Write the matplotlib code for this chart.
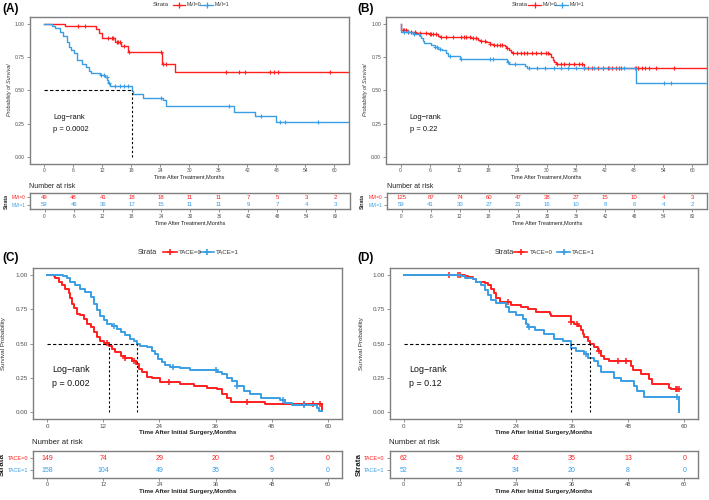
import numpy as np
import matplotlib
matplotlib.use("Agg")
import matplotlib.pyplot as plt
from matplotlib.lines import Line2D

plt.rcParams['font.family'] = ['Liberation Sans', 'DejaVu Sans']

RED = '#FF1F1F'
BLUE = '#3A9EE4'
GRAY = '#7F7F7F'
TXT = '#4D4D4D'

# ---------------- DATA ----------------
# Panel A (MVI, time after treatment)
a_mvi0_t = [4.4, 10.8, 11.4, 11.9, 14.7, 16.0, 17.4, 24.4, 27.1]
a_mvi0_s = [0.985, 0.96, 0.93, 0.895, 0.86, 0.83, 0.785, 0.695, 0.636]
a_mvi0_c = [7.1, 8.5, 13.2, 14.0, 14.3, 15.0, 15.3, 15.7, 16.5, 17.6, 24.1, 24.6, 25.3,
            37.6, 40.3, 41.5, 46.7, 47.6, 48.4, 59.0]
a_mvi1_t = [1.6, 2.3, 3.2, 4.0, 4.7, 5.1, 5.5, 6.1, 6.8, 7.8, 8.7, 9.2, 9.7, 11.6, 12.6, 13.1,
            13.3, 13.6, 18.1, 18.3, 20.5, 24.6, 25.1, 25.3, 39.2, 43.6, 48.0]
a_mvi1_s = [0.985, 0.967, 0.94, 0.91, 0.866, 0.828, 0.80, 0.778, 0.73, 0.70, 0.677, 0.644, 0.626,
            0.611, 0.596, 0.576, 0.556, 0.53, 0.495, 0.475, 0.445, 0.424, 0.407, 0.38, 0.34, 0.303, 0.258]
a_mvi1_c = [11.8, 12.3, 13.0, 13.4, 14.7, 15.7, 16.5, 17.4, 24.2, 38.3, 44.8, 48.8, 49.8, 56.6]
a_risk_mvi0 = [49, 48, 41, 18, 18, 11, 11, 7, 5, 3, 2]
a_risk_mvi1 = [59, 46, 36, 17, 15, 11, 11, 9, 7, 4, 3]
a_pval = "p = 0.0002"

# Panel B (MVI, time after treatment)
b_mvi0_t = [0.02, 1.5, 3.2, 6.0, 7.7, 8.0, 14.5, 15.9, 16.6, 17.6, 18.3, 19.0, 21.4, 21.7, 22.2,
            22.7, 23.1, 30.6, 31.0, 31.4, 31.6, 32.0, 37.7]
b_mvi0_s = [0.95, 0.94, 0.93, 0.92, 0.905, 0.90, 0.89, 0.88, 0.87, 0.86, 0.85, 0.84, 0.83, 0.82,
            0.80, 0.79, 0.78, 0.77, 0.75, 0.73, 0.71, 0.70, 0.67]
b_mvi0_c = [0.5, 0.8, 1.2, 1.5, 2.2, 2.9, 3.9, 5.3, 6.0, 6.3, 6.6, 7.3, 8.4, 9.4, 10.8, 12.5, 13.0,
            13.5, 14.2, 14.9, 15.5, 16.6, 17.4, 18.3, 19.2, 19.9, 20.4, 20.8, 21.9, 23.1, 24.0, 24.7,
            25.3, 26.0, 27.0, 27.9, 28.9, 29.9, 30.4, 32.2, 32.9, 33.7, 34.7, 35.6, 36.6, 37.3, 37.8,
            38.5, 39.3, 40.5, 41.6, 42.7, 43.4, 44.3, 45.0, 45.3, 48.5, 48.9, 49.6, 50.3, 51.1, 52.5, 56.2]
b_mvi1_t = [0.02, 2.5, 3.9, 4.2, 4.7, 4.9, 6.3, 7.0, 7.7, 8.5, 9.4, 9.7, 12.3, 21.9, 22.2, 25.5, 26.0, 48.4]
b_mvi1_s = [0.935, 0.92, 0.91, 0.89, 0.87, 0.855, 0.84, 0.825, 0.81, 0.80, 0.78, 0.76, 0.735, 0.715,
            0.70, 0.68, 0.665, 0.555]
b_mvi1_c = [0.8, 1.6, 2.7, 3.7, 7.1, 7.5, 8.0, 10.1, 12.5, 18.3, 19.0, 22.1, 23.6, 26.3, 28.1, 29.6,
            31.5, 32.9, 34.4, 36.1, 37.8, 39.7, 41.6, 42.9, 46.0, 48.1, 54.2, 55.6]
b_risk_mvi0 = [125, 87, 74, 60, 47, 38, 27, 15, 10, 4, 3]
b_risk_mvi1 = [59, 41, 30, 27, 21, 16, 10, 8, 6, 4, 2]
b_pval = "p = 0.22"

# Panel C (TACE, time after initial surgery)
c_tace0_t = [1.4, 1.8, 2.5, 3.2, 3.9, 4.6, 5.0, 5.3, 5.8, 6.4, 7.1, 7.8, 8.5, 9.3, 10.0, 10.7, 11.4,
             12.1, 13.2, 13.9, 14.6, 15.7, 16.7, 18.1, 18.9, 19.6, 20.3, 21.4, 22.4, 24.2, 25.6, 28.5,
             31.3, 34.2, 36.3, 37.4, 38.4, 39.2, 46.6, 58.7]
c_tace0_s = [0.99, 0.975, 0.95, 0.926, 0.90, 0.865, 0.83, 0.79, 0.755, 0.718, 0.706, 0.68, 0.645,
             0.62, 0.583, 0.546, 0.517, 0.502, 0.485, 0.46, 0.436, 0.41, 0.395, 0.375, 0.35, 0.314,
             0.29, 0.257, 0.248, 0.223, 0.216, 0.203, 0.191, 0.179, 0.167, 0.13, 0.105, 0.076, 0.056, 0.01]
c_tace0_c = [12.8, 16.7, 18.5, 26.0, 42.7, 54.8, 56.9, 58.4]
c_tace1_t = [3.5, 4.3, 5.0, 6.0, 7.1, 8.2, 9.3, 10.0, 10.7, 11.4, 12.1, 12.8, 13.9, 14.9, 15.7, 16.7,
             17.8, 18.5, 19.2, 19.9, 21.4, 22.4, 23.1, 23.8, 24.6, 25.3, 26.3, 28.5, 30.6, 36.3, 37.4,
             38.4, 39.5, 40.6, 42.0, 43.4, 45.6, 49.8, 50.9, 52.3, 57.7, 58.0]
c_tace1_s = [0.99, 0.98, 0.95, 0.926, 0.90, 0.877, 0.84, 0.79, 0.743, 0.70, 0.67, 0.645, 0.625, 0.608,
             0.583, 0.559, 0.534, 0.515, 0.497, 0.485, 0.473, 0.449, 0.424, 0.387, 0.363, 0.346,
             0.331, 0.321, 0.306, 0.289, 0.277, 0.252, 0.228, 0.191, 0.154, 0.13, 0.105, 0.086,
             0.069, 0.049, 0.027, 0.007]
c_tace1_c = [14.2, 26.8, 36.0, 40.6, 50.5, 54.8]
c_risk_tace0 = [149, 74, 29, 20, 5, 0]
c_risk_tace1 = [158, 104, 49, 35, 9, 0]
c_pval = "p = 0.002"

# Panel D (TACE, time after initial surgery)
d_tace0_t = [13.0, 13.7, 14.8, 15.5, 17.3, 18.0, 18.7, 19.3, 19.8, 20.5, 23.0, 25.1, 26.5, 28.3,
             31.2, 31.5, 35.8, 36.5, 37.2, 37.9, 38.3, 38.6, 39.4, 39.9, 40.8, 41.5, 42.2, 42.9,
             44.0, 48.6, 49.0, 50.7, 52.5, 53.2, 56.8, 57.2]
d_tace0_s = [0.99, 0.987, 0.968, 0.95, 0.944, 0.926, 0.90, 0.865, 0.828, 0.80, 0.784, 0.767, 0.748,
             0.73, 0.713, 0.70, 0.657, 0.645, 0.625, 0.60, 0.571, 0.547, 0.517, 0.493, 0.473, 0.449,
             0.412, 0.387, 0.37, 0.338, 0.306, 0.277, 0.24, 0.203, 0.179, 0.167]
d_tace0_c = [9.7, 11.6, 12.0, 22.3, 35.8, 37.0, 41.8, 45.8, 47.6, 58.2, 58.5, 58.9]
d_tace1_t = [12.3, 13.0, 14.8, 15.5, 16.6, 17.3, 18.0, 18.7, 19.8, 20.9, 21.9, 22.6, 24.1, 25.5, 26.2,
             26.5, 28.0, 30.1, 32.2, 34.0, 35.7, 35.8, 36.9, 38.6, 39.4, 40.8, 41.5, 42.2, 45.1, 46.5,
             49.3, 50.0, 51.5, 58.9]
d_tace1_s = [0.99, 0.975, 0.968, 0.95, 0.926, 0.89, 0.853, 0.816, 0.797, 0.792, 0.767, 0.73, 0.706,
             0.681, 0.645, 0.62, 0.596, 0.571, 0.534, 0.517, 0.497, 0.468, 0.449, 0.424, 0.395, 0.375,
             0.338, 0.289, 0.252, 0.228, 0.191, 0.154, 0.11, 0.0]
d_tace1_c = [26.7, 38.9, 58.4]
d_risk_tace0 = [62, 59, 42, 35, 13, 0]
d_risk_tace1 = [52, 51, 34, 20, 8, 0]
d_pval = "p = 0.12"

ticks6 = [0, 6, 12, 18, 24, 30, 36, 42, 48, 54, 60]
ticks12 = [0, 12, 24, 36, 48, 60]
yticks = [0.0, 0.25, 0.5, 0.75, 1.0]
ytick_labels = ['0.00', '0.25', '0.50', '0.75', '1.00']

W, H = 709, 500
fig = plt.figure(figsize=(W / 100, H / 100), dpi=100)


def box(x0, y0, x1, y1):
    return [x0 / W, 1 - y1 / H, (x1 - x0) / W, (y1 - y0) / H]


def style_axes(ax, fs):
    for sp in ax.spines.values():
        sp.set_color(GRAY)
        sp.set_linewidth(1.0)
    ax.tick_params(axis='both', colors=GRAY, labelcolor=TXT, labelsize=fs,
                   length=2, width=0.6, pad=1.5)


def draw_km(ax, t, s, cens, end, color, lw, ms):
    t = np.asarray(t)
    s = np.asarray(s)
    xs = np.r_[0.0, t, end]
    ys = np.r_[1.0, s, s[-1]]
    ax.step(xs, ys, where='post', color=color, lw=lw)
    c = np.asarray(cens)
    idx = np.searchsorted(t, c, side='right')
    cy = np.r_[1.0, s][idx]
    ax.plot(c, cy, '+', color=color, ms=ms, mew=lw * 0.8, ls='none')


def median(t, s):
    s = np.asarray(s)
    if (s <= 0.5).any():
        return t[int(np.argmax(s <= 0.5))]
    return None


def km_panel(rect, curves, end, xt, xlabel, ylabel, yl_style, pval, fs_tick, fs_lab,
             fs_lr, lr_xy, lr_dy, lw, ms, xlab_bold, ylab_x):
    ax = fig.add_axes(box(*rect))
    for (t, s, c, col) in curves:
        draw_km(ax, t, s, c, end, col, lw, ms)
    meds = [m for m in (median(t, s) for (t, s, c, col) in curves) if m is not None]
    if meds:
        ax.plot([0, max(meds)], [0.5, 0.5], ls=(0, (3, 2)), color='black', lw=0.8)
        for m in meds:
            ax.plot([m, m], [0, 0.5], ls=(0, (2, 2)), color='black', lw=0.8)
    ax.set_xlim(-3, 63)
    ax.set_ylim(-0.05, 1.05)
    ax.set_xticks(xt)
    ax.set_yticks(yticks)
    ax.set_yticklabels(ytick_labels)
    style_axes(ax, fs_tick)
    ax.set_xlabel(xlabel, fontsize=fs_lab, color='#222222', labelpad=1,
                  fontweight='bold' if xlab_bold else 'normal')
    ax.set_ylabel(ylabel, fontsize=fs_lab, color='#333333', style=yl_style)
    ax.yaxis.set_label_coords(ylab_x, 0.5)
    ax.text(lr_xy[0], lr_xy[1], 'Log\u2212rank', transform=ax.transAxes, fontsize=fs_lr,
            color='#111111', va='center')
    ax.text(lr_xy[0], lr_xy[1] - lr_dy, pval, transform=ax.transAxes, fontsize=fs_lr,
            color='#111111', va='center')
    return ax


def risk_panel(rect, times, rows, labels, xt, xlabel, fs_num, fs_tick, fs_lab, fs_strata,
               xlab_bold, title_xy, fs_title, strata_x):
    ax = fig.add_axes(box(*rect))
    cols = [RED, BLUE]
    for k, (vals, col) in enumerate(zip(rows, cols)):
        y = 2 - k
        for tt, v in zip(times, vals):
            ax.text(tt, y, str(v), color=col, ha='center', va='center', fontsize=fs_num)
    ax.set_xlim(-3, 63)
    ax.set_ylim(0.4, 2.6)
    ax.set_xticks(xt)
    ax.set_yticks([2, 1])
    ax.set_yticklabels(labels)
    style_axes(ax, fs_tick)
    for lab, col in zip(ax.get_yticklabels(), cols):
        lab.set_color(col)
    ax.set_xlabel(xlabel, fontsize=fs_lab, color='#222222', labelpad=1,
                  fontweight='bold' if xlab_bold else 'normal')
    ax.set_ylabel('Strata', fontsize=fs_strata, fontweight='bold', color='#222222')
    ax.yaxis.set_label_coords(strata_x, 0.5)
    fig.text(title_xy[0] / W, 1 - title_xy[1] / H, 'Number at risk', fontsize=fs_title,
             color='#222222', va='center')
    return ax


def legend(y, x_strata, segs, labels, fs, lw):
    fig.text(x_strata / W, 1 - y / H, 'Strata', fontsize=fs, color='#333333', va='center')
    for (x0, x1, xl), lab, col in zip(segs, labels, [RED, BLUE]):
        fig.add_artist(Line2D([x0 / W, x1 / W], [1 - y / H] * 2, color=col, lw=lw,
                              transform=fig.transFigure))
        fig.add_artist(Line2D([(x0 + x1) / 2 / W], [1 - y / H], color=col, marker='+',
                              ms=4, mew=lw, transform=fig.transFigure))
        fig.text(xl / W, 1 - y / H, lab, fontsize=fs * 0.85, color='#333333', va='center')


# ---------------- Panel A ----------------
km_panel((29.5, 17, 349, 163.5),
         [(a_mvi0_t, a_mvi0_s, a_mvi0_c, RED), (a_mvi1_t, a_mvi1_s, a_mvi1_c, BLUE)],
         63, ticks6, 'Time After Treatment,Months', 'Probability of Survival', 'italic', a_pval,
         3.6, 4.0, 5.4, (0.074, 0.317), 0.088, 1.0, 3.5, False, -0.055)
risk_panel((30, 193, 350, 209.3), ticks6, [a_risk_mvi0, a_risk_mvi1], ['MVI=0', 'MVI=1'],
           ticks6, 'Time After Treatment,Months', 4.3, 3.4, 4.0, 3.8, False, (29, 186), 5.0, -0.066)
legend(5, 153, [(173, 185, 187), (200, 213, 215)], ['MVI=0', 'MVI=1'], 4.2, 0.9)
fig.text(2 / W, 1 - 9 / H, '(A)', fontsize=8.5, fontweight='bold', va='center')

# ---------------- Panel B ----------------
km_panel((386, 17, 707, 163.5),
         [(b_mvi0_t, b_mvi0_s, b_mvi0_c, RED), (b_mvi1_t, b_mvi1_s, b_mvi1_c, BLUE)],
         63, ticks6, 'Time After Treatment,Months', 'Probability of Survival', 'italic', b_pval,
         3.6, 4.0, 5.4, (0.074, 0.317), 0.088, 1.0, 3.5, False, -0.055)
risk_panel((387, 193, 707, 209.3), ticks6, [b_risk_mvi0, b_risk_mvi1], ['MVI=0', 'MVI=1'],
           ticks6, 'Time After Treatment,Months', 4.3, 3.4, 4.0, 3.8, False, (387, 186), 5.0, -0.07)
legend(5, 512, [(528, 541, 543), (555, 568, 570)], ['MVI=0', 'MVI=1'], 4.2, 0.9)
fig.text(357 / W, 1 - 9 / H, '(B)', fontsize=8.5, fontweight='bold', va='center')

# ---------------- Panel C ----------------
km_panel((33, 268, 342, 419),
         [(c_tace0_t, c_tace0_s, c_tace0_c, RED), (c_tace1_t, c_tace1_s, c_tace1_c, BLUE)],
         58.8, ticks12, 'Time After Initial Surgery,Months', 'Survival Probability', 'normal', c_pval,
         4.5, 4.5, 6.4, (0.061, 0.331), 0.099, 1.4, 4.0, True, -0.088)
risk_panel((33, 450.7, 342, 477.5), ticks12, [c_risk_tace0, c_risk_tace1], ['TACE=0', 'TACE=1'],
           ticks12, 'Time After Initial Surgery,Months', 5.0, 4.0, 4.5, 5.8, True, (32, 443), 5.6, -0.088)
legend(252, 138, [(163, 177, 179), (200, 214, 216)], ['TACE=0', 'TACE=1'], 5.2, 1.2)
fig.text(2 / W, 1 - 258 / H, '(C)', fontsize=8.5, fontweight='bold', va='center')

# ---------------- Panel D ----------------
km_panel((390, 268, 698, 419),
         [(d_tace0_t, d_tace0_s, d_tace0_c, RED), (d_tace1_t, d_tace1_s, d_tace1_c, BLUE)],
         58.9, ticks12, 'Time After Initial Surgery,Months', 'Survival Probability', 'normal', d_pval,
         4.5, 4.5, 6.4, (0.061, 0.331), 0.099, 1.4, 4.0, True, -0.084)
risk_panel((389.5, 450.7, 698.3, 477.5), ticks12, [d_risk_tace0, d_risk_tace1], ['TACE=0', 'TACE=1'],
           ticks12, 'Time After Initial Surgery,Months', 5.0, 4.0, 4.5, 5.8, True, (389, 443), 5.6, -0.086)
legend(252, 495, [(514, 527, 530), (557, 570, 572)], ['TACE=0', 'TACE=1'], 5.2, 1.2)
fig.text(357 / W, 1 - 258 / H, '(D)', fontsize=8.5, fontweight='bold', va='center')

fig.savefig('out.png', dpi=100)
